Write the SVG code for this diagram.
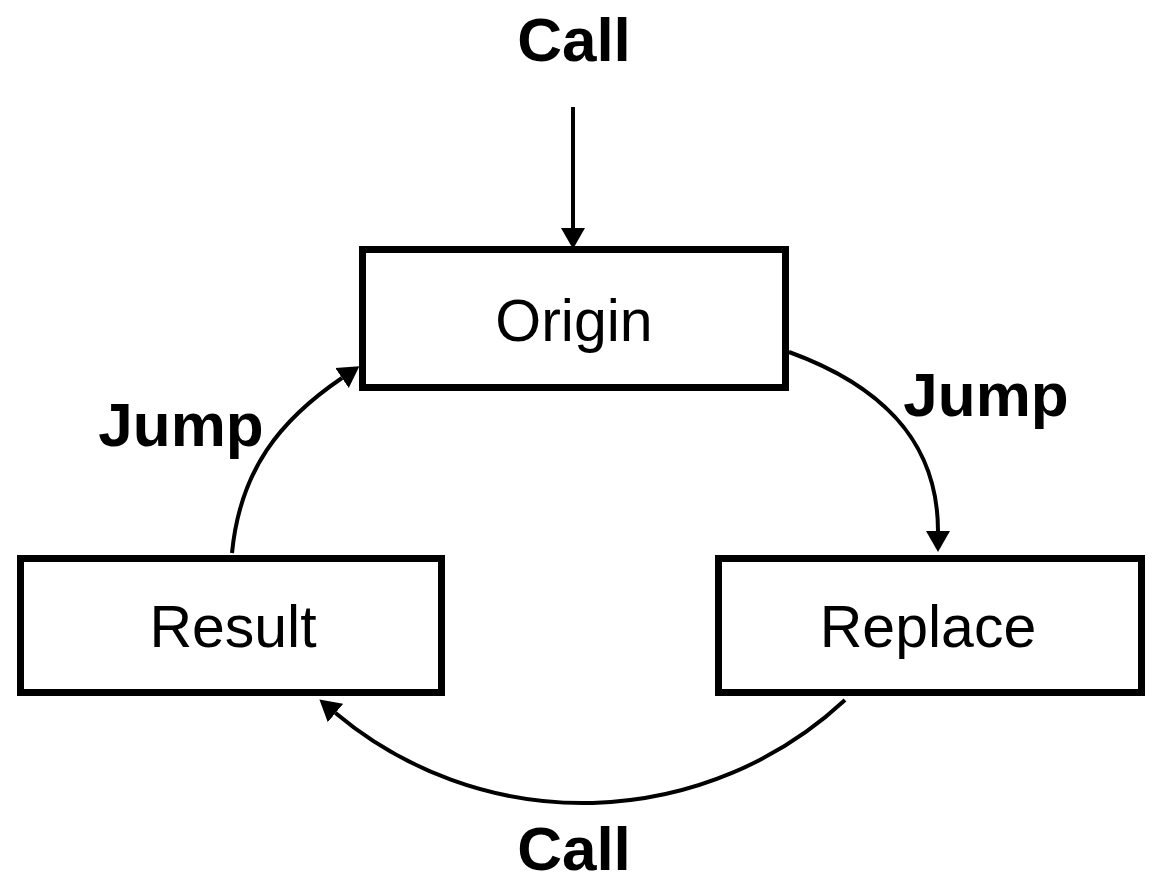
<svg xmlns="http://www.w3.org/2000/svg" width="1164" height="890" viewBox="0 0 1164 890">
<style>
.box{fill:#fff;stroke:#000;stroke-width:7}
.lbl{font-family:"Liberation Sans",Arial,sans-serif;font-size:59px;fill:#000;text-anchor:middle}
.edge{font-family:"Liberation Sans",Arial,sans-serif;font-size:62px;font-weight:bold;fill:#000;text-anchor:middle}
.conn{fill:none;stroke:#000;stroke-width:4}
</style>
<defs>
<marker id="ah" markerUnits="userSpaceOnUse" markerWidth="22" markerHeight="26" refX="0" refY="12" orient="auto" viewBox="0 0 22 24">
<path d="M0,0 L21,12 L0,24 z" fill="#000"/>
</marker>
</defs>
<rect width="1164" height="890" fill="#fff"/>
<g id="connectors">
<path class="conn" d="M573,107 L573,228" marker-end="url(#ah)"/>
<path class="conn" d="M789,352 C880,385 938,440 938,531" marker-end="url(#ah)"/>
<path class="conn" d="M845,700 A385,385 0 0 1 335.5,713" marker-end="url(#ah)"/>
<path class="conn" d="M232,553 C240,470 280,420 342,378" marker-end="url(#ah)"/>
</g>
<g id="origin">
<rect class="box" x="362.5" y="249.5" width="423" height="138"/>
<text class="lbl" x="574" y="341">Origin</text>
</g>
<g id="result">
<rect class="box" x="20.5" y="558.5" width="421" height="134"/>
<text class="lbl" x="233" y="647">Result</text>
</g>
<g id="replace">
<rect class="box" x="718.5" y="558.5" width="423" height="134"/>
<text class="lbl" x="928" y="647">Replace</text>
</g>
<g id="edge-labels">
<text class="edge" x="574" y="61">Call</text>
<text class="edge" x="181" y="446">Jump</text>
<text class="edge" x="986" y="416">Jump</text>
<text class="edge" x="574" y="870">Call</text>
</g>
</svg>
